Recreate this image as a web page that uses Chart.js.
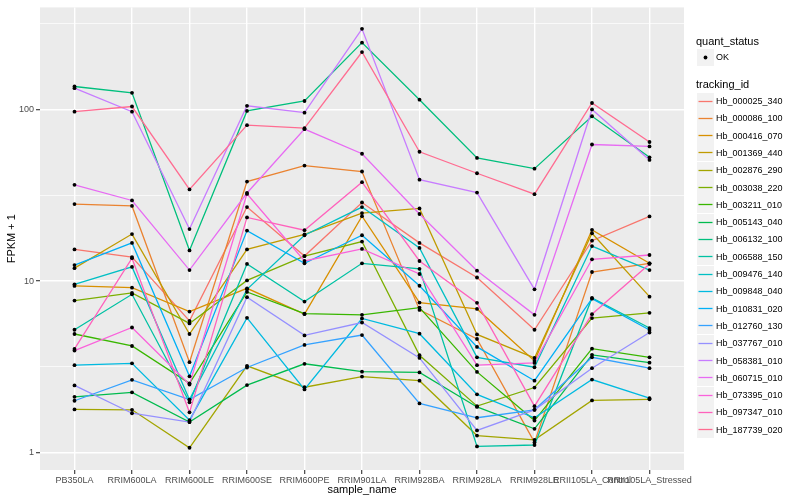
<!DOCTYPE html>
<html>
<head>
<meta charset="utf-8">
<script src="https://cdn.jsdelivr.net/npm/chart.js@4"></script>
<style>
  body { margin: 0; background: #fff; }
  #wrap { position: relative; width: 800px; height: 500px; background: #fff; font-family: "Liberation Sans", Arial, sans-serif; }
  #legend div, #legend svg { position: absolute; white-space: nowrap; }
</style>
</head>
<body>
<div id="wrap">
  <canvas id="chart" width="800" height="500"></canvas>
  <div id="legend"></div>
</div>
<script>
const categories = ["PB350LA", "RRIM600LA", "RRIM600LE", "RRIM600SE", "RRIM600PE", "RRIM901LA",
  "RRIM928BA", "RRIM928LA", "RRIM928LE", "RRII105LA_Control", "RRII105LA_Stressed"];

// FPKM + 1 per sample
const hb000025_340 = [15.3, 13.8, 5.87, 27.0, 14.0, 28.7, 16.7, 10.5, 5.21, 17.2, 23.8];
const hb000086_100 = [28.1, 27.4, 3.37, 38.0, 47.1, 43.5, 6.8, 4.6, 1.15, 11.3, 12.7];
const hb000416_070 = [9.37, 9.16, 6.65, 9.08, 6.42, 23.9, 7.5, 6.89, 3.43, 19.9, 12.7];
const hb001369_440 = [11.9, 18.8, 4.92, 15.3, 18.7, 24.9, 26.5, 4.89, 3.57, 19.0, 8.12];
const hb002876_290 = [1.79, 1.78, 1.07, 3.21, 2.41, 2.78, 2.63, 1.26, 1.19, 2.02, 2.05];
const hb003038_220 = [7.70, 8.53, 5.67, 10.1, 14.0, 17.0, 3.70, 1.87, 2.40, 6.09, 6.54];
const hb003211_010 = [4.92, 4.19, 2.54, 8.65, 6.47, 6.36, 7.01, 2.96, 1.54, 4.04, 3.60];
const hb005143_040 = [2.12, 2.25, 1.51, 2.48, 3.30, 2.97, 2.94, 1.85, 1.38, 3.72, 3.35];
const hb006132_100 = [136, 125, 15.1, 98.0, 112, 245, 114, 52.2, 45.2, 91.3, 52.6];
const hb006588_150 = [5.21, 8.38, 1.97, 12.6, 7.60, 12.7, 11.8, 1.09, 1.11, 7.98, 5.33];
const hb009476_140 = [9.58, 12.1, 2.04, 8.96, 18.5, 27.0, 15.6, 3.60, 3.15, 16.0, 11.6];
const hb009848_040 = [3.24, 3.32, 1.55, 6.11, 2.34, 6.06, 4.94, 2.19, 1.60, 2.67, 2.08];
const hb010831_020 = [12.4, 16.7, 2.79, 19.7, 12.7, 18.5, 9.4, 4.14, 2.63, 7.9, 5.19];
const hb012760_130 = [2.01, 2.66, 2.04, 3.14, 4.25, 4.85, 1.94, 1.60, 1.78, 3.60, 3.11];
const hb037767_010 = [2.47, 1.70, 1.51, 8.06, 4.83, 5.74, 3.57, 1.35, 1.78, 3.11, 5.02];
const hb058381_010 = [133, 97.1, 20.1, 105, 95.8, 295, 39.0, 32.8, 8.96, 100, 50.8];
const hb060715_010 = [36.4, 29.5, 11.6, 32.6, 76.8, 55.2, 24.6, 11.5, 6.36, 62.5, 60.9];
const hb073395_010 = [3.94, 5.37, 2.50, 32.2, 13.1, 15.4, 11.0, 3.24, 3.34, 13.4, 14.2];
const hb097347_010 = [4.03, 13.6, 1.72, 23.5, 19.8, 37.7, 13.1, 7.47, 1.87, 6.42, 12.6];
const hb187739_020 = [97.1, 104, 34.2, 81.0, 77.8, 216, 56.7, 42.5, 32.1, 109, 64.6];

const trackingIds = ["Hb_000025_340", "Hb_000086_100", "Hb_000416_070", "Hb_001369_440", "Hb_002876_290",
  "Hb_003038_220", "Hb_003211_010", "Hb_005143_040", "Hb_006132_100", "Hb_006588_150",
  "Hb_009476_140", "Hb_009848_040", "Hb_010831_020", "Hb_012760_130", "Hb_037767_010",
  "Hb_058381_010", "Hb_060715_010", "Hb_073395_010", "Hb_097347_010", "Hb_187739_020"];
const seriesValues = [hb000025_340, hb000086_100, hb000416_070, hb001369_440, hb002876_290,
  hb003038_220, hb003211_010, hb005143_040, hb006132_100, hb006588_150,
  hb009476_140, hb009848_040, hb010831_020, hb012760_130, hb037767_010,
  hb058381_010, hb060715_010, hb073395_010, hb097347_010, hb187739_020];
const colors = ["#F8766D", "#EA8331", "#D89000", "#C09B00", "#A3A500", "#7CAE00", "#39B600", "#00BB4E",
  "#00BF7D", "#00C1A3", "#00BFC4", "#00BAE0", "#00B0F6", "#35A2FF", "#9590FF", "#C77CFF",
  "#E76BF3", "#FA62DB", "#FF62BC", "#FF6C91"];

const yBreaks = [1, 10, 100];
const yMinorBreaks = [3.1623, 31.623, 316.23];

const FONT = '"Liberation Sans", Arial, sans-serif';
Chart.defaults.font.family = FONT;

const panelBg = {
  id: "panelBg",
  beforeDraw(chart) {
    const { ctx, chartArea: a } = chart;
    ctx.save();
    ctx.fillStyle = "#EBEBEB";
    ctx.fillRect(a.left, a.top, a.right - a.left, a.bottom - a.top);
    ctx.restore();
  }
};

const toPoints = vals => vals.map((v, i) => ({ x: i, y: v }));

const lineSets = seriesValues.map((vals, k) => ({
  type: "line",
  label: trackingIds[k],
  data: toPoints(vals),
  borderColor: colors[k],
  borderWidth: 1.3,
  pointRadius: 0,
  tension: 0,
  fill: false,
  order: seriesValues.length - k
}));

const pointSet = {
  type: "scatter",
  label: "OK",
  data: seriesValues.flatMap(toPoints),
  pointRadius: 1.9,
  pointBackgroundColor: "#000",
  pointBorderWidth: 0,
  showLine: false,
  order: -1
};

const allY = [...yBreaks, ...yMinorBreaks].sort((a, b) => a - b);

new Chart(document.getElementById("chart"), {
  data: { datasets: [pointSet, ...lineSets] },
  options: {
    responsive: false,
    animation: false,
    events: [],
    layout: { padding: { left: 0, right: 116, top: 5, bottom: 0 } },
    plugins: { legend: { display: false }, tooltip: { enabled: false } },
    scales: {
      x: {
        type: "linear",
        min: -0.6,
        max: categories.length - 1 + 0.6,
        afterBuildTicks: s => { s.ticks = categories.map((c, i) => ({ value: i })); },
        afterFit: s => { s.height = 30; },
        ticks: {
          autoSkip: false, maxRotation: 0, minRotation: 0,
          color: "#4D4D4D", font: { size: 9 }, padding: 1,
          callback: v => categories[v] ?? ""
        },
        grid: { color: "#FFFFFF", lineWidth: 1.4, tickColor: "#333333", tickWidth: 1.1, tickLength: 4 },
        border: { display: false },
        title: { display: true, text: "sample_name", color: "#000", font: { size: 11 }, padding: { top: 0, bottom: 3 } }
      },
      y: {
        type: "logarithmic",
        min: 0.794,
        max: 393,
        afterBuildTicks: s => { s.ticks = allY.map(v => ({ value: v })); },
        afterFit: s => { s.width = 40; },
        ticks: {
          color: "#4D4D4D", font: { size: 9 }, padding: 2,
          callback: v => yBreaks.includes(v) ? String(v) : ""
        },
        grid: {
          color: "#FFFFFF",
          lineWidth: c => (c.tick && yBreaks.includes(c.tick.value)) ? 1.4 : 0.7,
          tickColor: c => (c.tick && yBreaks.includes(c.tick.value)) ? "#333333" : "rgba(0,0,0,0)",
          tickWidth: 1.1,
          tickLength: 4
        },
        border: { display: false },
        title: { display: true, text: "FPKM + 1", color: "#000", font: { size: 11 }, padding: { top: 5, bottom: 0 } }
      }
    }
  },
  plugins: [panelBg]
});

// legend, ggplot style
const legend = document.getElementById("legend");
const SVGNS = "http://www.w3.org/2000/svg";
function addDiv(css, text) {
  const d = document.createElement("div");
  Object.assign(d.style, css);
  if (text) d.textContent = text;
  legend.appendChild(d);
  return d;
}
function key(cy, color, dot) {
  const svg = document.createElementNS(SVGNS, "svg");
  svg.setAttribute("width", "17");
  svg.setAttribute("height", "17");
  svg.style.left = "697px";
  svg.style.top = (cy - 8.5) + "px";
  const bg = document.createElementNS(SVGNS, "rect");
  bg.setAttribute("width", "17");
  bg.setAttribute("height", "17");
  bg.setAttribute("fill", "#F2F2F2");
  svg.appendChild(bg);
  if (dot) {
    const c = document.createElementNS(SVGNS, "circle");
    c.setAttribute("cx", "8.5"); c.setAttribute("cy", "8.5"); c.setAttribute("r", "1.9");
    c.setAttribute("fill", "#000");
    svg.appendChild(c);
  } else {
    const l = document.createElementNS(SVGNS, "line");
    l.setAttribute("x1", "1.5"); l.setAttribute("x2", "15.5");
    l.setAttribute("y1", "8.5"); l.setAttribute("y2", "8.5");
    l.setAttribute("stroke", color); l.setAttribute("stroke-width", "1.3");
    svg.appendChild(l);
  }
  legend.appendChild(svg);
}

addDiv({ left: "696px", top: (40.7 - 7) + "px", fontSize: "11px", lineHeight: "14px", color: "#000" }, "quant_status");
key(57, "#000", true);
addDiv({ left: "716px", top: (57 - 6) + "px", fontSize: "9px", lineHeight: "12px", color: "#000" }, "OK");

addDiv({ left: "696px", top: (84 - 7) + "px", fontSize: "11px", lineHeight: "14px", color: "#000" }, "tracking_id");
trackingIds.forEach((id, k) => {
  const cy = 101 + 17.3 * k;
  key(cy, colors[k], false);
  addDiv({ left: "716px", top: (cy - 6) + "px", fontSize: "9px", lineHeight: "12px", color: "#000" }, id);
});
</script>
</body>
</html>
